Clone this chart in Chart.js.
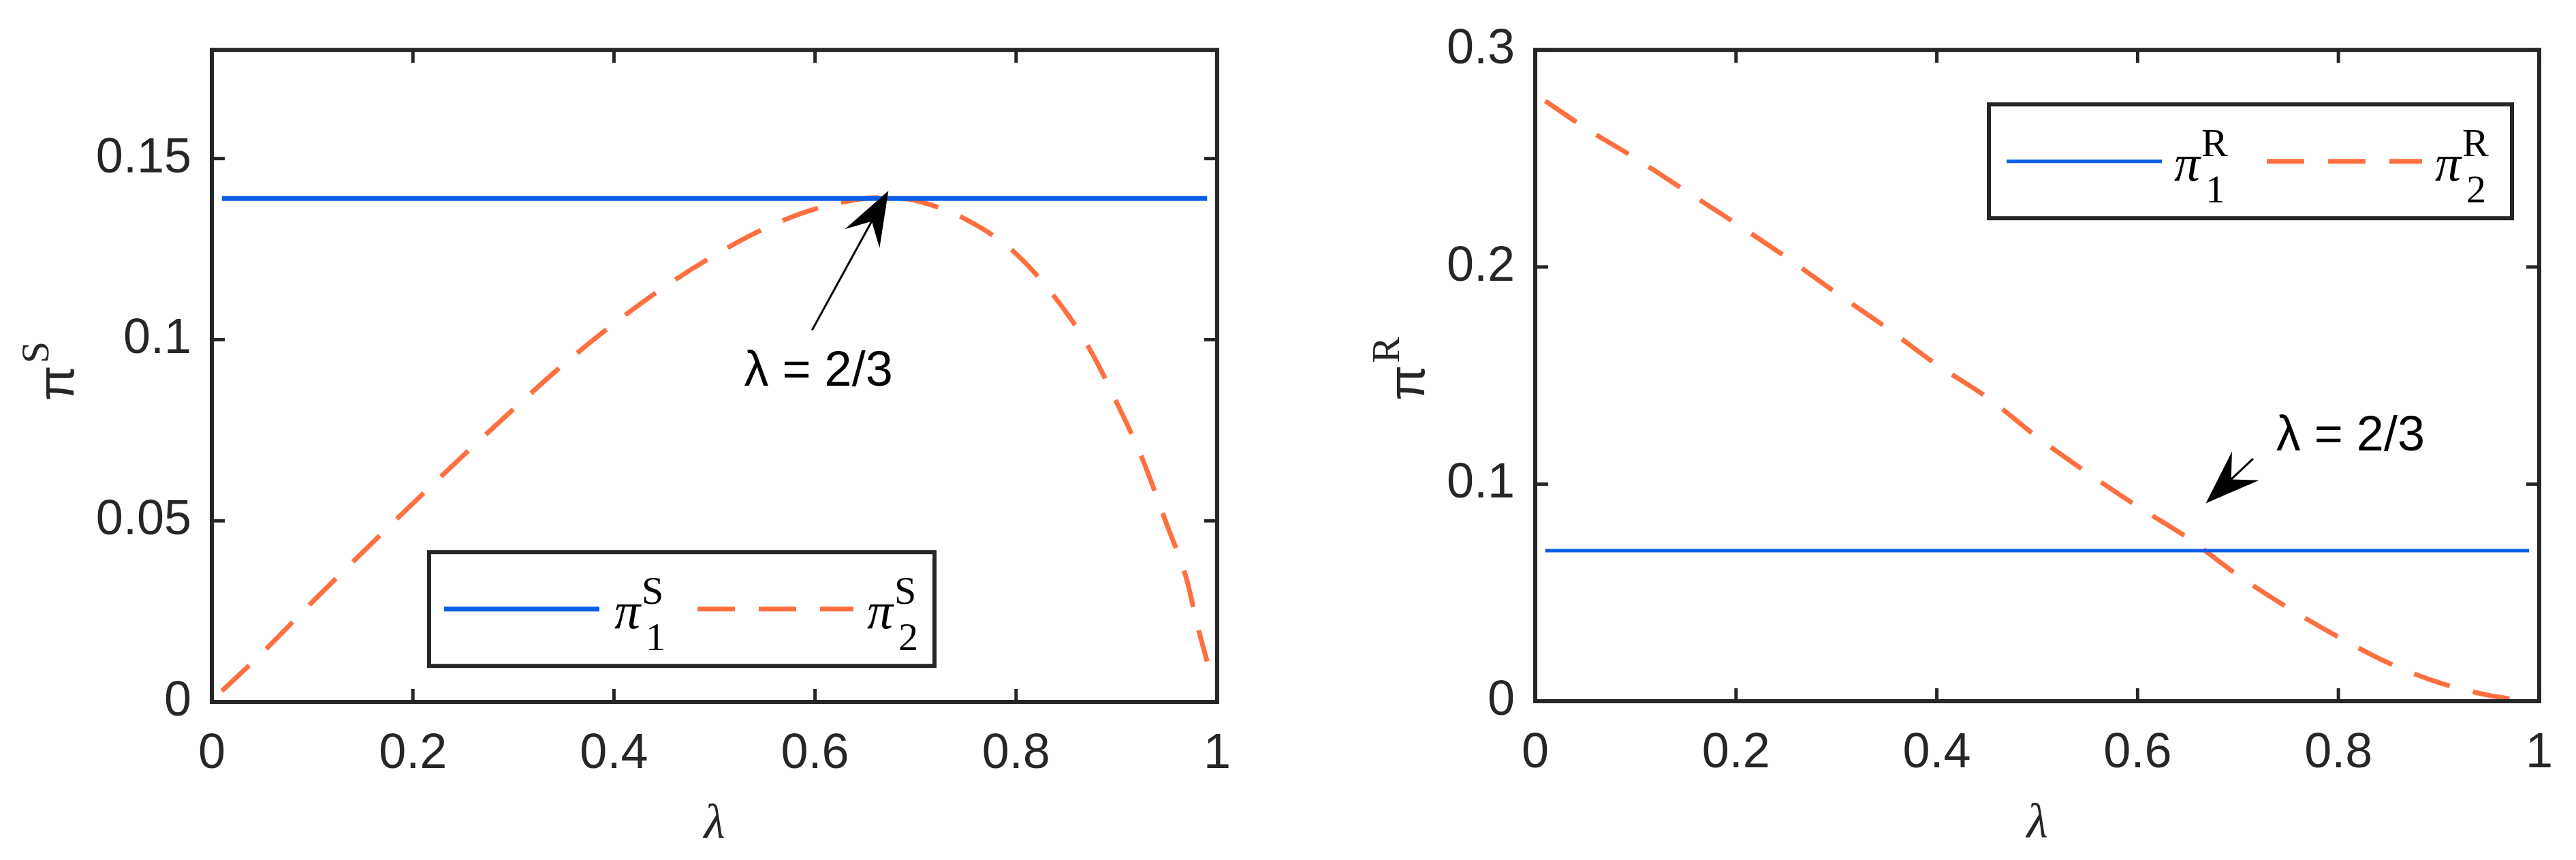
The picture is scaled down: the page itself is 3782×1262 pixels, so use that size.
<!DOCTYPE html>
<html>
<head>
<meta charset="utf-8">
<script src="https://cdn.jsdelivr.net/npm/chart.js@4.4.1/dist/chart.umd.min.js"></script>
<style>
  html, body { margin: 0; padding: 0; background: #fff; }
  #page { position: relative; width: 3782px; height: 1262px; overflow: hidden; }
  .panel { position: absolute; top: 0; width: 1891px; height: 1262px; }
</style>
</head>
<body>
<div id="page">
  <div class="panel" style="left:0"><canvas id="chartS" width="1891" height="1262"></canvas></div>
  <div class="panel" style="left:1891px"><canvas id="chartR" width="1891" height="1262"></canvas></div>
</div>
<script>
(function () {
    'use strict';

    // Left panel: pi^S versus lambda.
    var LAMBDA_S = [0.01, 0.05, 0.1, 0.15, 0.2, 0.25, 0.3, 0.35, 0.4, 0.45, 0.5, 0.55, 0.6,
                    0.65, 0.667, 0.7, 0.75, 0.8, 0.85, 0.875, 0.9, 0.925, 0.95, 0.97, 0.98, 0.99];
    var PI2_S = [0.003, 0.0135, 0.0276, 0.0413, 0.0548, 0.068, 0.0808, 0.0932, 0.1044, 0.1145,
                 0.1233, 0.1307, 0.1361, 0.139, 0.1393, 0.1384, 0.1332, 0.1237, 0.1075, 0.0965,
                 0.0827, 0.0675, 0.0489, 0.0335, 0.0215, 0.0112];
    var PI1_S_LAMBDA = [0.01, 0.99];
    var PI1_S = [0.139, 0.139];
    var Y_TICKS_S = [0, 0.05, 0.1, 0.15];

    // Right panel: pi^R versus lambda.
    var LAMBDA_R = [0.01, 0.05, 0.1, 0.15, 0.2, 0.25, 0.3, 0.35, 0.4, 0.45, 0.5, 0.55, 0.6,
                    0.65, 0.667, 0.7, 0.75, 0.8, 0.85, 0.9, 0.95, 0.99];
    var PI2_R = [0.2765, 0.264, 0.25, 0.235, 0.22, 0.2045, 0.188, 0.172, 0.155, 0.14, 0.1217,
                 0.1052, 0.0897, 0.0752, 0.0694, 0.058, 0.043, 0.0296, 0.0176, 0.0086, 0.0027, 0.0];
    var PI1_R_LAMBDA = [0.01, 0.99];
    var PI1_R = [0.0694, 0.0694];
    var Y_TICKS_R = [0, 0.1, 0.2, 0.3];

    var X_TICKS = [0, 0.2, 0.4, 0.6, 0.8, 1];

    var BLUE = '#0a5ee6';
    var ORANGE = '#ff6f3f';
    var INK = '#262626';
    var DASH = [55, 35];

    function toPoints(xs, ys) {
        return xs.map(function (x, i) { return { x: x, y: ys[i] }; });
    }

    function line(ctx, x0, y0, x1, y1) {
        ctx.beginPath();
        ctx.moveTo(x0, y0);
        ctx.lineTo(x1, y1);
        ctx.stroke();
    }

    /**
     * MATLAB-like arrow with a notched filled head.
     */
    function drawArrow(ctx, x0, y0, x1, y1) {
        var headLen = 80, headHalf = 29, notch = 51;
        var ang = Math.atan2(y1 - y0, x1 - x0);
        var ux = Math.cos(ang), uy = Math.sin(ang);
        var px = -uy, py = ux;
        ctx.lineWidth = 3;
        line(ctx, x0, y0, x1 - ux * notch, y1 - uy * notch);
        ctx.beginPath();
        ctx.moveTo(x1, y1);
        ctx.lineTo(x1 - ux * headLen + px * headHalf, y1 - uy * headLen + py * headHalf);
        ctx.lineTo(x1 - ux * notch, y1 - uy * notch);
        ctx.lineTo(x1 - ux * headLen - px * headHalf, y1 - uy * headLen - py * headHalf);
        ctx.closePath();
        ctx.fill();
    }

    /**
     * pi with subscript and superscript, as in the legend.
     */
    function drawPiLabel(ctx, x, cy, sub, sup) {
        ctx.textAlign = 'left';
        ctx.textBaseline = 'alphabetic';
        ctx.font = 'italic 76px "Liberation Serif", "DejaVu Serif", serif';
        ctx.fillText('\u03c0', x, cy + 28);
        var w = ctx.measureText('\u03c0').width;
        ctx.font = '58px "Liberation Serif", "DejaVu Serif", serif';
        ctx.fillText(sup, x + w + 2, cy - 8);
        ctx.fillText(sub, x + w + 8, cy + 60);
    }

    var decorPlugin = {
        id: 'decor',
        afterDraw: function (chart, args, o) {
            var ctx = chart.ctx;
            var a = chart.chartArea;
            var xs = chart.scales.x;
            var ys = chart.scales.y;
            ctx.save();

            // Axes box and inward ticks on all four sides.
            ctx.strokeStyle = INK;
            ctx.fillStyle = INK;
            ctx.lineWidth = 5;
            xs.ticks.forEach(function (t) {
                var p = xs.getPixelForValue(t.value);
                line(ctx, p, a.bottom, p, a.bottom - 19);
                line(ctx, p, a.top, p, a.top + 19);
            });
            ys.ticks.forEach(function (t) {
                var p = ys.getPixelForValue(t.value);
                line(ctx, a.left, p, a.left + 19, p);
                line(ctx, a.right, p, a.right - 19, p);
            });
            ctx.lineWidth = 6;
            ctx.lineCap = 'square';
            ctx.strokeRect(a.left, a.top, a.right - a.left, a.bottom - a.top);
            ctx.lineCap = 'butt';

            // x axis title.
            ctx.font = 'italic 72px "Liberation Serif", "DejaVu Serif", serif';
            ctx.textAlign = 'center';
            ctx.textBaseline = 'alphabetic';
            ctx.fillText('\u03bb', (a.left + a.right) / 2, a.bottom + 200);

            // y axis title, rotated.
            ctx.save();
            ctx.translate(a.left - o.yTitleGap, (a.top + a.bottom) / 2 + 37);
            ctx.rotate(-Math.PI / 2);
            ctx.textAlign = 'left';
            ctx.font = '76px "Liberation Sans", Arial, sans-serif';
            ctx.fillText('\u03c0', 0, 0);
            var pw = ctx.measureText('\u03c0').width;
            ctx.font = '58px "Liberation Serif", "DejaVu Serif", serif';
            ctx.fillText(o.letter, pw + 3, -37);
            ctx.restore();

            // Legend.
            var L = o.legend;
            var lx = a.left + L.x, ly = a.top + L.y;
            ctx.fillStyle = '#fff';
            ctx.fillRect(lx, ly, L.w, L.h);
            ctx.lineWidth = 6;
            ctx.strokeRect(lx, ly, L.w, L.h);
            var cy = ly + L.h / 2;
            ctx.lineWidth = o.blueWidth;
            ctx.strokeStyle = BLUE;
            line(ctx, lx + L.s1[0], cy, lx + L.s1[1], cy);
            ctx.lineWidth = 7;
            ctx.strokeStyle = ORANGE;
            ctx.setLineDash(DASH);
            line(ctx, lx + L.s2[0], cy, lx + L.s2[1], cy);
            ctx.setLineDash([]);
            ctx.fillStyle = '#000';
            drawPiLabel(ctx, lx + L.t1, cy, '1', o.letter);
            drawPiLabel(ctx, lx + L.t2, cy, '2', o.letter);

            // Annotation arrow and text.
            var n = o.note;
            ctx.fillStyle = '#000';
            ctx.strokeStyle = '#000';
            drawArrow(ctx, xs.getPixelForValue(n.tail[0]), ys.getPixelForValue(n.tail[1]),
                xs.getPixelForValue(n.tip[0]), ys.getPixelForValue(n.tip[1]));
            ctx.font = '72px "Liberation Sans", Arial, sans-serif';
            ctx.textAlign = 'left';
            ctx.textBaseline = 'alphabetic';
            ctx.fillText('\u03bb = 2/3', xs.getPixelForValue(n.text[0]), ys.getPixelForValue(n.text[1]));

            ctx.restore();
        }
    };

    function buildConfig(p) {
        return {
            type: 'line',
            data: {
                datasets: [{
                    data: toPoints(p.blueX, p.blueY),
                    borderColor: BLUE,
                    borderWidth: p.decor.blueWidth,
                    pointRadius: 0,
                    fill: false
                }, {
                    data: toPoints(p.orangeX, p.orangeY),
                    borderColor: ORANGE,
                    borderWidth: 7,
                    borderDash: DASH,
                    pointRadius: 0,
                    cubicInterpolationMode: 'monotone',
                    fill: false
                }]
            },
            options: {
                responsive: false,
                animation: false,
                events: [],
                layout: { padding: { left: 0, top: 59, right: p.padRight, bottom: 0 } },
                plugins: {
                    legend: { display: false },
                    tooltip: { enabled: false },
                    decor: p.decor
                },
                scales: {
                    x: {
                        type: 'linear',
                        min: 0,
                        max: 1,
                        afterBuildTicks: function (s) {
                            s.ticks = X_TICKS.map(function (v) { return { value: v }; });
                        },
                        afterFit: function (s) { s.height = p.xHeight; },
                        grid: { display: false, drawTicks: false },
                        border: { display: false },
                        ticks: {
                            padding: 34,
                            color: INK,
                            font: { family: '"Liberation Sans", Arial, sans-serif', size: 72 },
                            maxRotation: 0,
                            callback: function (v) { return String(v); }
                        }
                    },
                    y: {
                        type: 'linear',
                        min: 0,
                        max: p.yMax,
                        afterBuildTicks: function (s) {
                            s.ticks = p.yTicks.map(function (v) { return { value: v }; });
                        },
                        afterFit: function (s) { s.width = p.yWidth; },
                        grid: { display: false, drawTicks: false },
                        border: { display: false },
                        ticks: {
                            padding: 30,
                            color: INK,
                            font: { family: '"Liberation Sans", Arial, sans-serif', size: 72 },
                            callback: function (v) { return String(v); }
                        }
                    }
                }
            },
            plugins: [decorPlugin]
        };
    }

    function init() {
        new Chart(document.getElementById('chartS').getContext('2d'), buildConfig({
            blueX: PI1_S_LAMBDA, blueY: PI1_S,
            orangeX: LAMBDA_S, orangeY: PI2_S,
            yMax: 0.18, yTicks: Y_TICKS_S,
            yWidth: 311, xHeight: 232, padRight: 104,
            decor: {
                letter: 'S',
                blueWidth: 7,
                yTitleGap: 203,
                legend: { x: 319, y: 737, w: 742, h: 167, s1: [22, 250], t1: 272, s2: [394, 623], t2: 643 },
                note: { tail: [0.597, 0.1026], tip: [0.673, 0.1411], text: [0.5295, 0.0872] }
            }
        }));

        new Chart(document.getElementById('chartR').getContext('2d'), buildConfig({
            blueX: PI1_R_LAMBDA, blueY: PI1_R,
            orangeX: LAMBDA_R, orangeY: PI2_R,
            yMax: 0.3, yTicks: Y_TICKS_R,
            yWidth: 363, xHeight: 233, padRight: 45,
            decor: {
                letter: 'R',
                blueWidth: 5,
                yTitleGap: 163,
                legend: { x: 666, y: 80, w: 768, h: 167, s1: [26, 254], t1: 272, s2: [408, 636], t2: 655 },
                note: { tail: [0.715, 0.1117], tip: [0.668, 0.0912], text: [0.738, 0.1154] }
            }
        }));
    }

    if (document.readyState === 'loading') {
        document.addEventListener('DOMContentLoaded', init);
    } else {
        init();
    }
})();
</script>
</body>
</html>
